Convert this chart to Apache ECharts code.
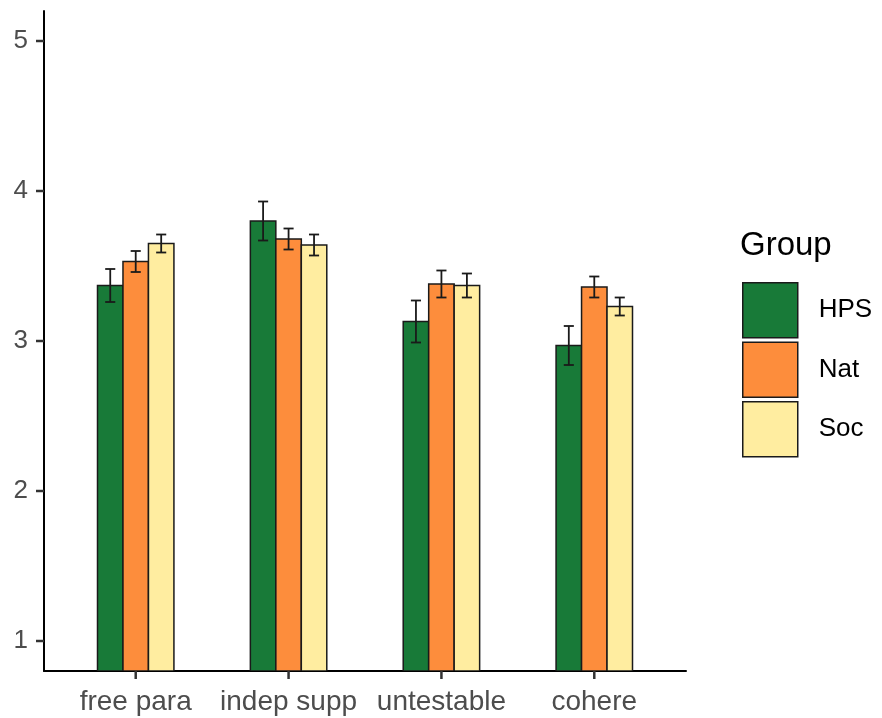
<!DOCTYPE html>
<html>
<head>
<meta charset="utf-8">
<script src="https://cdn.jsdelivr.net/npm/echarts@6/dist/echarts.min.js"></script>
<style>
  html, body { margin: 0; padding: 0; background: #ffffff; }
  #chart { width: 882px; height: 718px; }
</style>
</head>
<body>
<div id="chart"></div>
<script>
// Mean ratings per item, by group, with standard-error bars
const categories = ['free para', 'indep supp', 'untestable', 'cohere'];
const groups = ['HPS', 'Nat', 'Soc'];
const groupColors = ['#187a38', '#fd8d3c', '#ffeda0'];

const hpsMean = [3.37, 3.80, 3.13, 2.97];
const hpsErr  = [0.11, 0.13, 0.14, 0.13];
const natMean = [3.53, 3.68, 3.38, 3.36];
const natErr  = [0.07, 0.07, 0.09, 0.07];
const socMean = [3.65, 3.64, 3.37, 3.23];
const socErr  = [0.06, 0.07, 0.08, 0.06];

// tick values: y ratings 1..5, x at each category position
const yTicks = [1, 2, 3, 4, 5];
const xTicks = [1, 2, 3, 4];

const means = [hpsMean, natMean, socMean];
const errs = [hpsErr, natErr, socErr];

// padded axis extents (ggplot-style expansion around the data range)
const Y_MIN = 0.8, Y_MAX = 5.2;
const X_MIN = 0.4, X_MAX = 4.6;
const BAR_W = 1 / 6;      // width of one bar in category units (dodged group = 0.5)
const CAP_W = 0.066;      // error-bar cap width in category units
const TICK_LEN = 8;
const FONT = '"Liberation Sans", Arial, sans-serif';

function makeRender(gi) {
  return function (params, api) {
    const xc = api.value(0) + (gi - 1) * BAR_W;
    const m = api.value(1);
    const e = api.value(2);
    const tl = api.coord([xc - BAR_W / 2, m]);
    const br = api.coord([xc + BAR_W / 2, Y_MIN]);
    const hi = api.coord([xc, m + e]);
    const lo = api.coord([xc, m - e]);
    const capHalf = api.size([CAP_W, 0])[0] / 2;
    const ink = { stroke: '#1a1a1a', lineWidth: 1.8 };
    return {
      type: 'group',
      children: [
        {
          type: 'rect',
          shape: { x: tl[0], y: tl[1], width: br[0] - tl[0], height: br[1] - tl[1] },
          style: { fill: groupColors[gi], stroke: '#1a1a1a', lineWidth: 1.5 }
        },
        { type: 'line', shape: { x1: hi[0], y1: hi[1], x2: lo[0], y2: lo[1] }, style: ink },
        { type: 'line', shape: { x1: hi[0] - capHalf, y1: hi[1], x2: hi[0] + capHalf, y2: hi[1] }, style: ink },
        { type: 'line', shape: { x1: lo[0] - capHalf, y1: lo[1], x2: lo[0] + capHalf, y2: lo[1] }, style: ink }
      ]
    };
  };
}

const barSeries = groups.map(function (name, gi) {
  return {
    name: name,
    type: 'custom',
    renderItem: makeRender(gi),
    itemStyle: { color: groupColors[gi] },
    encode: { x: 0, y: 1 },
    data: categories.map(function (c, ci) {
      return [ci + 1, means[gi][ci], errs[gi][ci]];
    }),
    clip: true,
    silent: true,
    z: 2
  };
});

// outward tick marks at the tick values, positioned by the axes' scales
const tickInk = { stroke: '#333333', lineWidth: 2.5 };
const xTickSeries = {
  type: 'custom',
  silent: true,
  clip: false,
  z: 3,
  data: xTicks.map(function (v) { return [v, Y_MIN]; }),
  encode: { x: 0, y: 1 },
  renderItem: function (params, api) {
    const p = api.coord([api.value(0), Y_MIN]);
    return { type: 'line', shape: { x1: p[0], y1: p[1], x2: p[0], y2: p[1] + TICK_LEN }, style: tickInk };
  }
};
const yTickSeries = {
  type: 'custom',
  silent: true,
  clip: false,
  z: 3,
  data: yTicks.map(function (v) { return [X_MIN, v]; }),
  encode: { x: 0, y: 1 },
  renderItem: function (params, api) {
    const p = api.coord([X_MIN, api.value(1)]);
    return { type: 'line', shape: { x1: p[0] - TICK_LEN, y1: p[1], x2: p[0], y2: p[1] }, style: tickInk };
  }
};

const chart = echarts.init(document.getElementById('chart'), null, { renderer: 'canvas' });
chart.setOption({
  animation: false,
  backgroundColor: '#ffffff',
  textStyle: { fontFamily: FONT },
  grid: { left: 44, right: 196, top: 11, bottom: 47, containLabel: false },
  title: {
    text: 'Group',
    left: 740,
    top: 229,
    padding: 0,
    textStyle: { fontFamily: FONT, fontSize: 33, fontWeight: 'normal', color: '#000000' }
  },
  legend: {
    orient: 'vertical',
    left: 742,
    top: 282,
    padding: 0,
    icon: 'rect',
    itemWidth: 55,
    itemHeight: 55,
    itemGap: 3,
    itemStyle: { borderColor: '#1a1a1a', borderWidth: 1.5 },
    selectedMode: false,
    data: groups,
    textStyle: { fontFamily: FONT, fontSize: 26, color: '#000000', padding: [0, 0, 0, 16] }
  },
  xAxis: {
    type: 'value',
    min: X_MIN,
    max: X_MAX,
    splitLine: { show: false },
    axisLine: { show: true, onZero: false, lineStyle: { color: '#000000', width: 2 } },
    axisTick: { show: false },
    axisLabel: {
      customValues: xTicks,
      margin: 17,
      fontFamily: FONT,
      fontSize: 28,
      color: '#4d4d4d',
      formatter: function (v) { return categories[Math.round(v) - 1]; }
    }
  },
  yAxis: {
    type: 'value',
    min: Y_MIN,
    max: Y_MAX,
    splitLine: { show: false },
    axisLine: { show: true, onZero: false, lineStyle: { color: '#000000', width: 2 } },
    axisTick: { show: false },
    axisLabel: {
      customValues: yTicks,
      margin: 16,
      fontFamily: FONT,
      fontSize: 26,
      color: '#4d4d4d'
    }
  },
  series: barSeries.concat([xTickSeries, yTickSeries])
});
</script>
</body>
</html>
